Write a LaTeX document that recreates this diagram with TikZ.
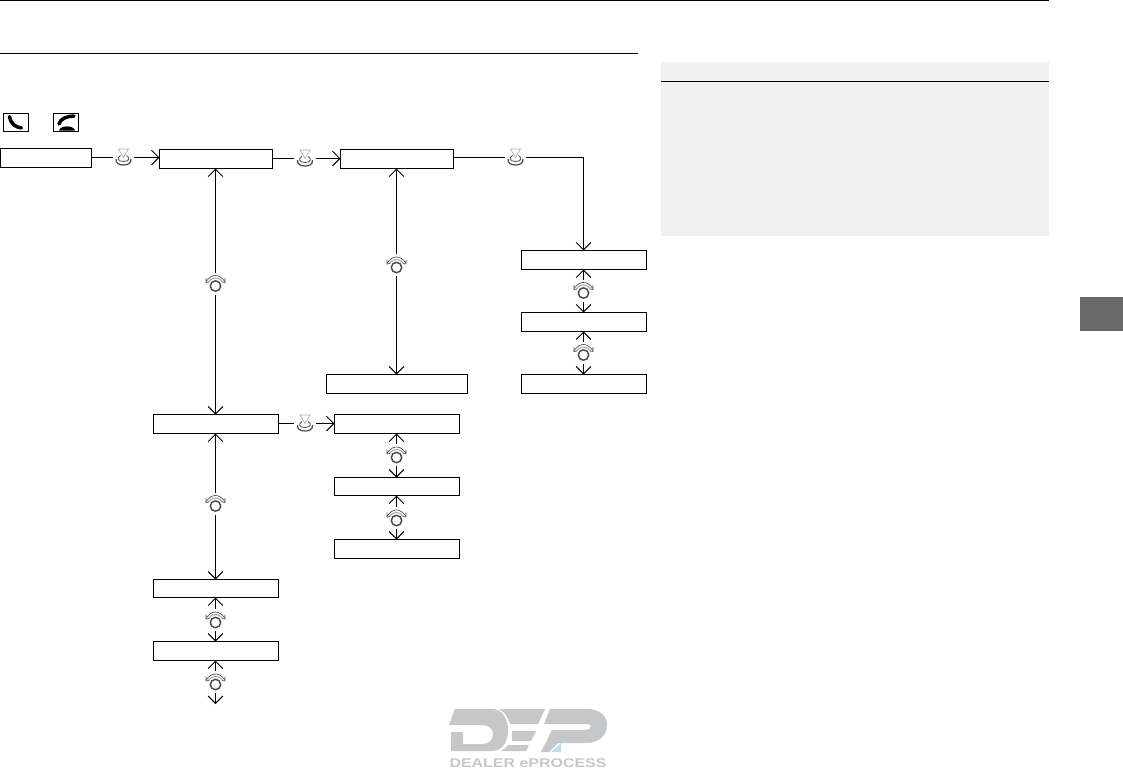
\documentclass[tikz,border=0pt]{standalone}
\usepackage{fontspec}
\setmainfont{Liberation Sans}
\usetikzlibrary{arrows.meta}
\definecolor{panelgrey}{HTML}{F1F1F1}
\definecolor{tabgrey}{HTML}{696969}
\definecolor{logogrey}{HTML}{C6C7C8}
\definecolor{logoblue}{HTML}{BBDDEE}
\definecolor{icongrey}{HTML}{4A4A4A}
\definecolor{iconlight}{HTML}{A8A8A8}
\tikzset{
  x=0.75pt,y=-0.75pt,
  screenbox/.style={draw=black,line width=0.75pt,fill=white,minimum height=14.25pt,inner sep=0pt,outer sep=0pt},
  h18/.style={minimum height=13.5pt},
  w91/.style={minimum width=68.25pt},
  w113/.style={minimum width=84.75pt},
  w125/.style={minimum width=93.75pt},
  w141/.style={minimum width=105.75pt},
  conn/.style={line width=0.75pt,-{Straight Barb[length=5.5pt,width=11pt,line width=0.75pt]}},
  plainconn/.style={line width=0.75pt},
  pressicon/.style={rectangle,minimum width=16pt,minimum height=14pt,inner sep=0pt,outer sep=0pt,
    path picture={\begin{scope}[shift={(path picture bounding box.center)},line width=0.45pt]
      \draw[iconlight] (-5,-8.5) -- (5,-8.5) -- (0,0) -- cycle;
      \draw[icongrey,line width=0.6pt] (-3,-2) .. controls (-7,0) and (-6,4) .. (0,4) .. controls (6,4) and (7,0) .. (3,-2);
      \draw[icongrey,line width=0.9pt] (-7.5,1.5) .. controls (-8,6) and (-4,7.5) .. (0,7.5) .. controls (4,7.5) and (8,6) .. (7.5,1.5);
    \end{scope}}},
  rotaryicon/.style={rectangle,minimum width=16.5pt,minimum height=16.5pt,inner sep=0pt,outer sep=0pt,
    path picture={\begin{scope}[shift={(path picture bounding box.center)},line width=0.5pt]
      \draw[icongrey] (-9.5,-2) .. controls (-6,-6.5) and (-3,-8) .. (0,-8) .. controls (3,-8) and (6,-6.5) .. (9.5,-2);
      \draw[iconlight,line width=0.8pt] (-7,-1.5) .. controls (-5,-4.5) and (-2,-5.5) .. (0,-5.5) .. controls (2,-5.5) and (5,-4.5) .. (7,-1.5);
      \draw[icongrey] (-9.5,-5.5) -- (-9.5,-1) -- (-6.5,-1.5);
      \draw[icongrey] (9.5,-5.5) -- (9.5,-1) -- (6.5,-1.5);
      \draw[icongrey,line width=1.1pt] (0,2.5) circle[radius=5.2];
    \end{scope}}},
  phonebox/.style={draw=black,line width=0.75pt,fill=white,minimum width=18.75pt,minimum height=13.5pt,inner sep=0pt,outer sep=0pt},
}
\begin{document}
\begin{tikzpicture}
\useasboundingbox (0,0) rectangle (1123,779);
% page furniture
\fill[panelgrey] (661,62) rectangle (1049,236);
\draw[line width=0.9pt] (661,81.5) -- (1049,81.5);
\fill[tabgrey] (1080,297) rectangle (1123,331);
\draw[line width=0.9pt] (0,0.5) -- (1049,0.5);
\draw[line width=0.75pt] (0,53.5) -- (638,53.5);

% phone buttons
\node[phonebox] (call) at (16,122.5) {};
\node[phonebox] (hang) at (66,122.5) {};
\draw[line width=2.6pt,line cap=round] (9.5,116.5) .. controls (11,124) and (15,127) .. (21.5,128);
\draw[line width=2.6pt,line cap=round] (59,124) .. controls (60,119) and (67,116) .. (74,116);
\fill (59,130.5) .. controls (60.5,125) and (73.5,125) .. (75,130.5) -- cycle;

% screens
\node[screenbox,w91] (b1) at (46,158) {};
\node[screenbox,w113] (b2) at (216,159) {};
\node[screenbox,w113] (b3) at (397,159) {};
\node[screenbox,w125] (b4) at (584,260) {};
\node[screenbox,w125] (b5) at (584,322) {};
\node[screenbox,w125] (b6) at (584,384) {};
\node[screenbox,w141] (b7) at (397,384) {};
\node[screenbox,w125] (b8) at (216,424) {};
\node[screenbox,w125] (b9) at (397,424) {};
\node[screenbox,w125,h18] (b10) at (397,486.5) {};
\node[screenbox,w125] (b11) at (397,549) {};
\node[screenbox,w125,h18] (b12) at (216,588.5) {};
\node[screenbox,w125] (b13) at (216,651) {};

% controls
\node[pressicon] (p1) at (123.5,157.5) {};
\node[pressicon] (p2) at (305,158.5) {};
\node[pressicon] (p3) at (515.5,157.5) {};
\node[pressicon] (p4) at (305,423.5) {};
\node[rotaryicon] (r1) at (215.5,283.5) {};
\node[rotaryicon] (r2) at (396.5,265) {};
\node[rotaryicon] (r3) at (583.5,290.5) {};
\node[rotaryicon] (r4) at (583.5,352.5) {};
\node[rotaryicon] (r5) at (215.5,503.5) {};
\node[rotaryicon] (r6) at (396.5,455) {};
\node[rotaryicon] (r7) at (396.5,518) {};
\node[rotaryicon] (r8) at (215.5,620) {};
\node[rotaryicon] (r9) at (215.5,682) {};
\coordinate (tail) at (215.5,704);

% connectors
\draw[plainconn] (b1.east |- p1) -- (p1);
\draw[conn] (p1) -- (p1 -| b2.west);
\draw[plainconn] (b2.east |- p2) -- (p2);
\draw[conn] (p2) -- (p2 -| b3.west);
\draw[plainconn] (b3.east |- p3) -- (p3);
\draw[conn] (p3) -| (r3 |- b4.north);
\draw[plainconn] (b8.east |- p4) -- (p4);
\draw[conn] (p4) -- (p4 -| b9.west);
\draw[conn] (r1) -- (r1 |- b2.south);
\draw[conn] (r1) -- (r1 |- b8.north);
\draw[conn] (r2) -- (r2 |- b3.south);
\draw[conn] (r2) -- (r2 |- b7.north);
\draw[conn] (r3) -- (r3 |- b4.south);
\draw[conn] (r3) -- (r3 |- b5.north);
\draw[conn] (r4) -- (r4 |- b5.south);
\draw[conn] (r4) -- (r4 |- b6.north);
\draw[conn] (r5) -- (r5 |- b8.south);
\draw[conn] (r5) -- (r5 |- b12.north);
\draw[conn] (r6) -- (r6 |- b9.south);
\draw[conn] (r6) -- (r6 |- b10.north);
\draw[conn] (r7) -- (r7 |- b10.south);
\draw[conn] (r7) -- (r7 |- b11.north);
\draw[conn] (r8) -- (r8 |- b12.south);
\draw[conn] (r8) -- (r8 |- b13.north);
\draw[conn] (r9) -- (r9 |- b13.south);
\draw[conn] (r9) -- (tail);

% watermark
\fill[logogrey,even odd rule]
  (455,709) -- (492,709) .. controls (503,709) and (508,720) .. (508,730)
  .. controls (508,741) and (503,751) .. (492,751) -- (451,751) -- (451,732) -- (463,732) -- (463,744)
  -- (482,744) .. controls (489,744) and (493,740) .. (493,734) .. controls (493,729) and (489,725) .. (482,725)
  -- (449,725) -- cycle;
\fill[logogrey]
  (499,709) -- (545,709) -- (538,724) -- (510,724) .. controls (508,718) and (505,712) .. (499,709) -- cycle;
\fill[logogrey]
  (512,731) -- (536,731) -- (531,741) -- (512,741) -- cycle;
\fill[logogrey]
  (508,745) -- (529,745) -- (526,751) -- (500,751) .. controls (503,750) and (506,748) .. (508,745) -- cycle;
\fill[logogrey]
  (550,709) -- (587,709) .. controls (600,709) and (607,716) .. (607,725)
  .. controls (607,735) and (599,743) .. (587,743) -- (558,743) -- (549,752) -- (541,752) -- (552,730)
  -- (584,730) .. controls (589,730) and (591,728) .. (591,726) .. controls (591,724) and (589,724) .. (585,724)
  -- (544,724) -- cycle;
\fill[logoblue] (551,752) -- (561,743) -- (561,752) -- cycle;
\node[text=logogrey,font=\bfseries\fontsize{9.5pt}{10pt}\selectfont,xscale=1.26,inner sep=0pt] (dep) at (528,763.5) {DEALER ePROCESS};
\end{tikzpicture}
\end{document}
